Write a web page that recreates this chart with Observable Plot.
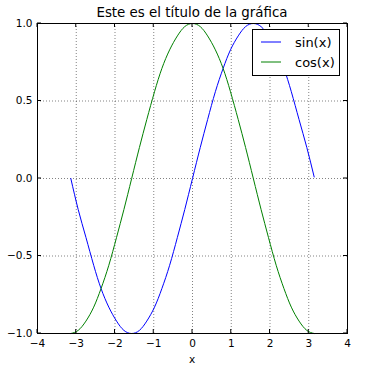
<!DOCTYPE html>
<html>
<head>
<meta charset="utf-8">
<script src="https://cdn.jsdelivr.net/npm/d3@7"></script>
<script src="https://cdn.jsdelivr.net/npm/@observablehq/plot@0.6"></script>
<style>
  body { margin: 0; background: #fff; }
  #chart svg { font-family: "DejaVu Sans", sans-serif; }
</style>
</head>
<body>
<div id="chart"></div>
<script>
const title = "Este es el título de la gráfica";
const xLabel = "x";
const xValues = [-3.14, -2.95, -2.75, -2.55, -2.36, -2.16, -1.96, -1.77, -1.57, -1.37, -1.18, -0.98, -0.79, -0.59, -0.39, -0.20, 0, 0.20, 0.39, 0.59, 0.79, 0.98, 1.18, 1.37, 1.57, 1.77, 1.96, 2.16, 2.36, 2.55, 2.75, 2.95, 3.14];
const sinValues = [0, -0.20, -0.38, -0.56, -0.71, -0.83, -0.92, -0.98, -1.00, -0.98, -0.92, -0.83, -0.71, -0.56, -0.38, -0.20, 0, 0.20, 0.38, 0.56, 0.71, 0.83, 0.92, 0.98, 1.00, 0.98, 0.92, 0.83, 0.71, 0.56, 0.38, 0.20, 0.01];
const cosValues = [-1.00, -0.98, -0.92, -0.83, -0.71, -0.56, -0.38, -0.20, 0, 0.20, 0.38, 0.56, 0.71, 0.83, 0.92, 0.98, 1.00, 0.98, 0.92, 0.83, 0.71, 0.56, 0.38, 0.20, 0, -0.20, -0.38, -0.56, -0.71, -0.83, -0.92, -0.98, -1.00];
const seriesNames = ["sin(x)", "cos(x)"];
const seriesColors = ["#0000ff", "#008000"];
const xTicks = [-4, -3, -2, -1, 0, 1, 2, 3, 4];
const yTicks = [-1.0, -0.5, 0.0, 0.5, 1.0];

const sinData = xValues.map((x, i) => ({x, y: sinValues[i]}));
const cosData = xValues.map((x, i) => ({x, y: cosValues[i]}));

const fmtX = d => d < 0 ? "\u2212" + Math.abs(d) : String(d);
const fmtY = d => (d < 0 ? "\u2212" : "") + Math.abs(d).toFixed(1);

const plot = Plot.plot({
  width: 376,
  height: 369,
  marginLeft: 37,
  marginRight: 29,
  marginTop: 23,
  marginBottom: 36,
  style: {fontFamily: "DejaVu Sans, sans-serif", fontSize: "10px", color: "#000", background: "#fff"},
  x: {domain: [-4, 4]},
  y: {domain: [-1, 1]},
  marks: [
    Plot.gridX(xTicks.slice(1, -1), {stroke: "#000", strokeOpacity: 0.7, strokeWidth: 0.7, strokeDasharray: "1,2"}),
    Plot.gridY(yTicks.slice(1, -1), {stroke: "#000", strokeOpacity: 0.7, strokeWidth: 0.7, strokeDasharray: "1,2"}),
    Plot.line(sinData, {x: "x", y: "y", stroke: seriesColors[0], strokeWidth: 1, curve: "natural"}),
    Plot.line(cosData, {x: "x", y: "y", stroke: seriesColors[1], strokeWidth: 1, curve: "natural"}),
    Plot.axisX({ticks: xTicks, tickSize: 0, tickPadding: 6, tickFormat: fmtX, label: null, fontSize: 10.5}),
    Plot.axisY({ticks: yTicks, tickSize: 0, tickPadding: 5, tickFormat: fmtY, label: null, fontSize: 10.5}),
    Plot.frame({stroke: "#000", strokeWidth: 1})
  ]
});

const svg = d3.select(plot);
const sx = plot.scale("x"), sy = plot.scale("y");
const x0 = sx.apply(-4), x1 = sx.apply(4), y0 = sy.apply(-1), y1 = sy.apply(1);
const g = svg.append("g").attr("stroke", "#000").attr("stroke-width", 1);
const tl = 4;
for (const t of xTicks) {
  const px = sx.apply(t);
  g.append("line").attr("x1", px).attr("x2", px).attr("y1", y0).attr("y2", y0 - tl);
  g.append("line").attr("x1", px).attr("x2", px).attr("y1", y1).attr("y2", y1 + tl);
}
for (const t of yTicks) {
  const py = sy.apply(t);
  g.append("line").attr("x1", x0).attr("x2", x0 + tl).attr("y1", py).attr("y2", py);
  g.append("line").attr("x1", x1).attr("x2", x1 - tl).attr("y1", py).attr("y2", py);
}

svg.append("text").attr("x", (x0 + x1) / 2).attr("y", 17).attr("text-anchor", "middle")
  .attr("font-size", 13.4).attr("fill", "#000").text(title);
svg.append("text").attr("x", (x0 + x1) / 2).attr("y", 363).attr("text-anchor", "middle")
  .attr("font-size", 10.5).attr("fill", "#000").text(xLabel);

// legend
const lg = svg.append("g");
lg.append("rect").attr("x", 252.5).attr("y", 29.5).attr("width", 87).attr("height", 46)
  .attr("fill", "#fff").attr("stroke", "#000").attr("stroke-width", 1);
seriesNames.forEach((name, i) => {
  const yy = 42 + i * 20;
  lg.append("line").attr("x1", 261).attr("x2", 281).attr("y1", yy).attr("y2", yy)
    .attr("stroke", seriesColors[i]).attr("stroke-width", 1);
  lg.append("text").attr("x", 295).attr("y", yy).attr("dy", "0.35em").attr("text-anchor", "start")
    .attr("font-size", 13).attr("fill", "#000").text(name);
});

document.getElementById("chart").appendChild(plot);
</script>
</body>
</html>
